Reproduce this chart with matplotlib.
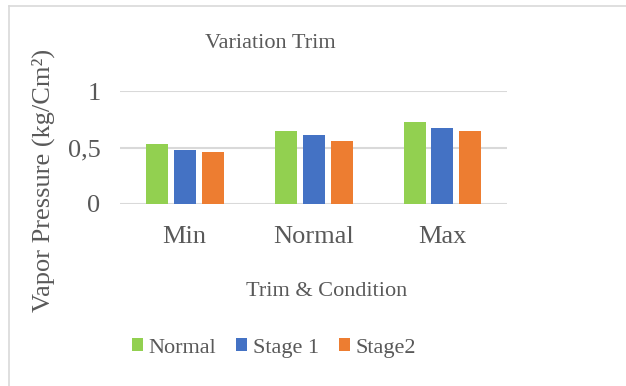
import matplotlib.pyplot as plt
import numpy as np
from matplotlib.lines import Line2D

# data
categories = ["Min", "Normal", "Max"]
series_names = ["Normal", "Stage 1", "Stage2"]
normal_vals = [0.53, 0.65, 0.73]
stage1_vals = [0.48, 0.61, 0.67]
stage2_vals = [0.46, 0.56, 0.65]
y_ticks = [0, 0.5, 1]
y_tick_labels = ["0", "0,5", "1"]

colors = ["#92D050", "#4472C4", "#ED7D31"]
text_color = "#595959"

plt.rcParams['font.family'] = ['Liberation Serif', 'DejaVu Serif']

W, H = 626, 386
fig = plt.figure(figsize=(W / 100, H / 100), dpi=100)
ax = fig.add_axes([120 / W, 1 - 204 / H, 387 / W, 113 / H])

x = np.arange(len(categories))
bw = 22 / 129
step = 28 / 129
for i, (vals, name) in enumerate(zip([normal_vals, stage1_vals, stage2_vals], series_names)):
    ax.bar(x + (i - 1) * step, vals, width=bw, color=colors[i], label=name, zorder=3)

ax.set_xlim(-0.5, len(categories) - 0.5)
ax.set_ylim(0, 1)
ax.set_yticks(y_ticks)
ax.set_yticklabels(y_tick_labels)
ax.set_xticks(x)
ax.set_xticklabels(categories)
ax.tick_params(axis='both', length=0, labelsize=19, colors=text_color)
ax.tick_params(axis='x', pad=16)
ax.tick_params(axis='y', pad=14)
ax.grid(axis='y', color='#D9D9D9', linewidth=1.5, zorder=0)
for s in ax.spines.values():
    s.set_visible(False)

fig.text(270 / W, 1 - 43 / H, "Variation Trim", ha='center', va='center',
         fontsize=16, color=text_color)
fig.text(327 / W, 1 - 291 / H, "Trim & Condition", ha='center', va='center',
         fontsize=16, color=text_color)
fig.text(43 / W, 1 - 180 / H, "Vapor Pressure (kg/Cm²)", ha='center', va='center',
         rotation=90, fontsize=19, color=text_color)

leg = fig.legend(loc='center', bbox_to_anchor=(274 / W, 1 - 348 / H), ncol=3,
                 frameon=False, fontsize=16, handlelength=0.5, handleheight=0.5,
                 handletextpad=0.25, columnspacing=0.9)
for t in leg.get_texts():
    t.set_color(text_color)

# chart area border (left and top edges only, rest is cropped)
fig.add_artist(Line2D([9 / W, 9 / W], [0, 1 - 6 / H], transform=fig.transFigure,
                      color='#D9D9D9', linewidth=1.2))
fig.add_artist(Line2D([9 / W, 1], [1 - 6 / H, 1 - 6 / H], transform=fig.transFigure,
                      color='#D9D9D9', linewidth=1.2))

fig.savefig("out.png", dpi=100)
